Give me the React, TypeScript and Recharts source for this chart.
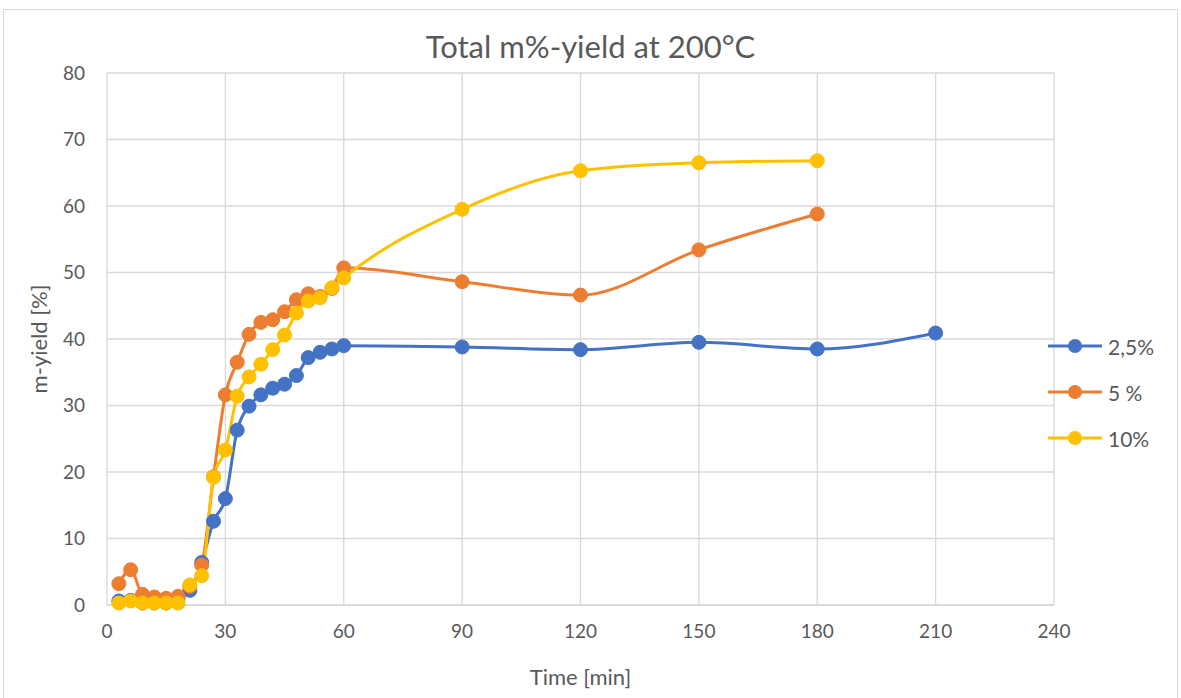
import { CartesianGrid, Line, LineChart, XAxis, YAxis } from 'recharts'

const times = [3, 6, 9, 12, 15, 18, 21, 24, 27, 30, 33, 36, 39, 42, 45, 48, 51, 54, 57, 60, 90, 120, 150, 180, 210]

const yield25 = [0.6, 0.7, 0.3, 0.3, 0.3, 1.0, 2.2, 6.4, 12.6, 16.0, 26.3, 29.9, 31.6, 32.6, 33.2, 34.5, 37.2, 38.0, 38.5, 39.0, 38.8, 38.4, 39.5, 38.5, 40.9]
const yield5 = [3.2, 5.3, 1.6, 1.2, 1.0, 1.3, 2.8, 6.0, 19.3, 31.6, 36.5, 40.7, 42.5, 42.9, 44.1, 45.9, 46.8, 46.4, 47.6, 50.7, 48.6, 46.6, 53.4, 58.8, null]
const yield10 = [0.3, 0.6, 0.3, 0.3, 0.3, 0.3, 3.0, 4.4, 19.2, 23.3, 31.4, 34.3, 36.2, 38.4, 40.6, 43.9, 45.7, 46.2, 47.7, 49.2, 59.5, 65.3, 66.5, 66.8, null]

const xTicks = [0, 30, 60, 90, 120, 150, 180, 210, 240]
const yTicks = [0, 10, 20, 30, 40, 50, 60, 70, 80]

const series = [
  { key: 'y25', name: '2,5%', color: '#4472C4', values: yield25 },
  { key: 'y5', name: '5 %', color: '#ED7D31', values: yield5 },
  { key: 'y10', name: '10%', color: '#FFC000', values: yield10 },
]

const data = times.map((t, i) => {
  const row: Record<string, number | null> = { t }
  series.forEach((s) => {
    row[s.key] = s.values[i]
  })
  return row
})

const font = 'Lato, "Open Sans", sans-serif'
const textColor = '#595959'

export default function App() {
  return (
    <div style={{ position: 'absolute', left: 0, top: 0, width: 1181, height: 698, background: '#fff', fontFamily: font, overflow: 'hidden' }}>
      <div style={{ position: 'absolute', left: 3, top: 9, width: 1175, height: 700, border: '1px solid #d9d9d9', boxSizing: 'border-box' }} />
      <div style={{ position: 'absolute', left: 0, top: 27, width: 1181, textAlign: 'center', fontSize: 31, color: textColor }}>
        Total m%-yield at 200°C
      </div>
      <div style={{ position: 'absolute', left: 0, top: 0 }}>
        <LineChart width={1181} height={698} data={data} margin={{ top: 73, left: 47, right: 127, bottom: 63 }}>
          <CartesianGrid stroke="#d9d9d9" strokeWidth={1.3} />
          <XAxis
            dataKey="t"
            type="number"
            domain={[0, 240]}
            ticks={xTicks}
            height={30}
            tickSize={0}
            tickMargin={20}
            axisLine={{ stroke: '#d9d9d9', strokeWidth: 1.3 }}
            tickLine={false}
            tick={{ fontSize: 19, fill: textColor, fontFamily: font }}
            label={{ value: 'Time [min]', position: 'insideBottom', offset: -50, fontSize: 22, fill: textColor, fontFamily: font }}
          />
          <YAxis
            type="number"
            domain={[0, 80]}
            ticks={yTicks}
            width={60}
            tickSize={0}
            tickMargin={22}
            axisLine={false}
            tickLine={false}
            tick={{ fontSize: 19, fill: textColor, fontFamily: font }}
            label={{ value: 'm-yield [%]', angle: -90, position: 'insideLeft', offset: -8, fontSize: 22, fill: textColor, fontFamily: font, style: { textAnchor: 'middle' } }}
          />
          {series.map((s) => (
            <Line
              key={s.key}
              dataKey={s.key}
              name={s.name}
              type="monotone"
              stroke={s.color}
              strokeWidth={3}
              dot={{ r: 7, fill: s.color, stroke: s.color, strokeWidth: 1 }}
              activeDot={false}
              connectNulls={false}
              isAnimationActive={false}
            />
          ))}
        </LineChart>
      </div>
      {series.map((s, i) => (
        <div key={s.key} style={{ position: 'absolute', left: 1048, top: 333 + i * 46, height: 26, display: 'flex', alignItems: 'center' }}>
          <svg width={56} height={26}>
            <line x1={0} y1={13} x2={54} y2={13} stroke={s.color} strokeWidth={3} />
            <circle cx={27} cy={13} r={7} fill={s.color} />
          </svg>
          <span style={{ fontSize: 21, color: textColor, marginLeft: 4 }}>{s.name}</span>
        </div>
      ))}
    </div>
  )
}
